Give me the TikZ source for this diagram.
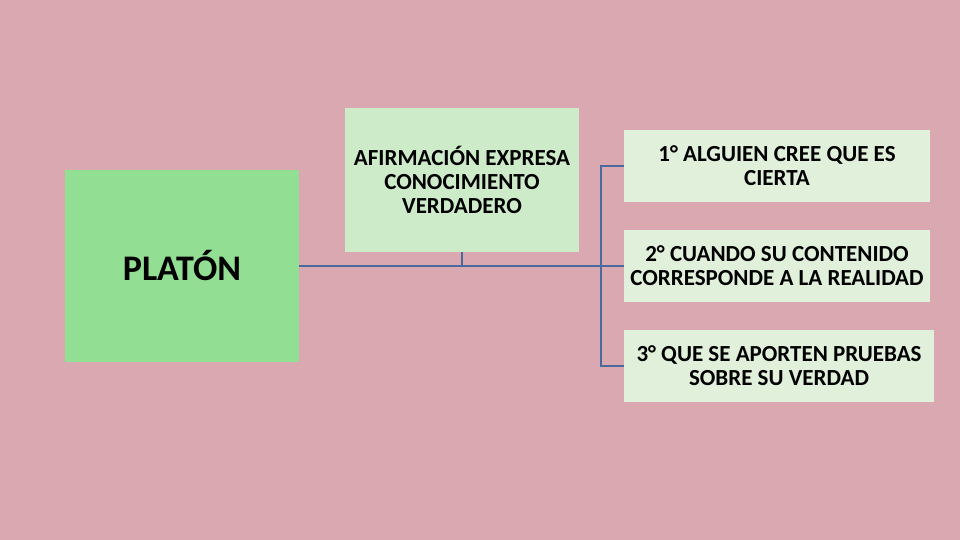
\documentclass[tikz,border=0pt]{standalone}
\usepackage{fontspec}
\setmainfont{Carlito}
\definecolor{rosa}{HTML}{D9A8B1}
\definecolor{verde}{HTML}{92DE92}
\definecolor{verdeclaro}{HTML}{CDEBC8}
\definecolor{verdepalido}{HTML}{E0F0DA}
\definecolor{linea}{HTML}{4A6A9E}
\tikzset{
  platbox/.style={fill=verde,minimum width=234pt,minimum height=191pt,inner sep=0pt,
    font=\fontsize{36}{38}\selectfont\bfseries},
  afirbox/.style={fill=verdeclaro,minimum width=234pt,minimum height=144pt,inner sep=0pt,align=center,
    font=\fontsize{23}{24}\selectfont\bfseries},
  pasobox/.style={fill=verdepalido,minimum width=306pt,minimum height=72pt,inner sep=0pt,align=center,
    font=\fontsize{23}{24}\selectfont\bfseries},
  rama/.style={draw=linea,line width=1.6pt}
}

\begin{document}
\begin{tikzpicture}[x=1pt,y=-1pt]
\fill[rosa] (0,0) rectangle (960,540);
\useasboundingbox (0,0) rectangle (960,540);

\node[platbox] (platon) at (182,266) {PLATÓN};
\node[afirbox] (afir) at (462,180) {AFIRMACIÓN EXPRESA\\CONOCIMIENTO\\VERDADERO};
\node[pasobox] (paso1) at (777,166) {1° ALGUIEN CREE QUE ES\\CIERTA};
\node[pasobox] (paso2) at (777,266) {2° CUANDO SU CONTENIDO\\CORRESPONDE A LA REALIDAD};
\node[pasobox,minimum width=310pt] (paso3) at (779,366) {3° QUE SE APORTEN PRUEBAS\\SOBRE SU VERDAD};

\coordinate (nudo) at (601,266);
\draw[rama] (platon.east) -- (paso2.west);
\draw[rama] (afir.south) -- (afir.south |- nudo);
\draw[rama] (paso1.west) -- (paso1.west -| nudo) -- (paso3.west -| nudo) -- (paso3.west);
\end{tikzpicture}
\end{document}
